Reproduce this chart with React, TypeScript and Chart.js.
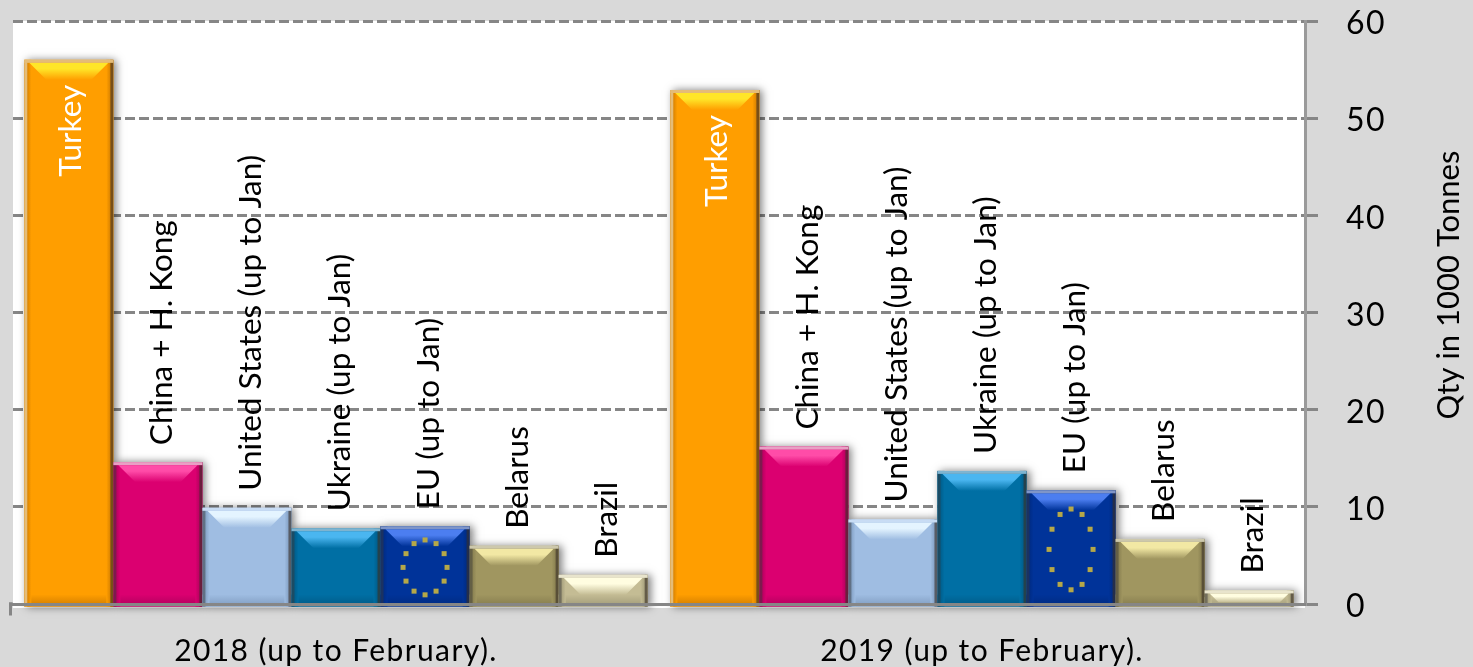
import React, { useEffect, useRef } from "react";
import { Chart, registerables } from "chart.js";

Chart.register(...registerables);

const periods = ["2018 (up to February).", "2019 (up to February)."];
const turkey = [56, 52.9];
const china = [14.6, 16.2];
const unitedStates = [9.9, 8.7];
const ukraine = [7.8, 13.7];
const eu = [8, 11.7];
const belarus = [6, 6.7];
const brazil = [3, 1.4];
const yTicks = [0, 10, 20, 30, 40, 50, 60];
const yTitle = "Qty in 1000 Tonnes";

type Skin = { label: string; data: number[]; body: string; dark: string; high: string; rim: string; text?: string };
const skins: Skin[] = [
  { label: "Turkey", data: turkey, body: "#FF9E00", dark: "#D07C00", high: "#FFE628", rim: "#E4BC78", text: "#FFFFFF" },
  { label: "China + H. Kong", data: china, body: "#DB0070", dark: "#B0005C", high: "#FF4CA8", rim: "#E8A0C4" },
  { label: "United States (up to Jan)", data: unitedStates, body: "#9FBDE2", dark: "#7F9CC0", high: "#E4F4FF", rim: "#C8DCF4" },
  { label: "Ukraine (up to Jan)", data: ukraine, body: "#006FA4", dark: "#005A86", high: "#4AB6F0", rim: "#7EB4D0" },
  { label: "EU (up to Jan)", data: eu, body: "#003399", dark: "#002A80", high: "#4C7EF0", rim: "#7F95C8" },
  { label: "Belarus", data: belarus, body: "#A09660", dark: "#857C4E", high: "#F2E8A4", rim: "#CDC8AC" },
  { label: "Brazil", data: brazil, body: "#C4BC94", dark: "#A09A78", high: "#FFFDE0", rim: "#E8E4CC" },
];

const FONT = "Lato";
const AXIS = "#868686";

const bevelPlugin = {
  id: "bevel",
  beforeDraw(chart: any) {
    const { ctx, chartArea: a } = chart;
    ctx.fillStyle = "#FFFFFF";
    ctx.fillRect(a.left, a.top, a.right - a.left, a.bottom - a.top + 4);
    (ctx as any).letterSpacing = "1.4px";
  },
  beforeDatasetsDraw(chart: any) {
    const { ctx } = chart;
    ctx.save();
    chart.data.datasets.forEach((_: any, i: number) => {
      chart.getDatasetMeta(i).data.forEach((b: any) => {
        ctx.shadowColor = "rgba(0,0,0,0.5)";
        ctx.shadowBlur = 8;
        ctx.shadowOffsetX = 3;
        ctx.shadowOffsetY = 0;
        ctx.fillStyle = "#FFFFFF";
        ctx.fillRect(b.x - b.width / 2, b.y, b.width, b.base - b.y + 4);
      });
    });
    ctx.restore();
  },
  afterDatasetsDraw(chart: any) {
    const { ctx, chartArea: a } = chart;
    ctx.save();
    (ctx as any).letterSpacing = "0px";
    skins.forEach((s, i) => {
      chart.getDatasetMeta(i).data.forEach((b: any) => {
        const l = b.x - b.width / 2;
        const r = b.x + b.width / 2;
        const t = b.y;
        const bot = b.base + 4;
        const h = bot - t;
        ctx.fillStyle = s.body;
        ctx.fillRect(l, b.base, b.width, 4);
        const bg = ctx.createLinearGradient(0, b.base - Math.min(8, h / 3), 0, bot);
        bg.addColorStop(0, s.body);
        bg.addColorStop(1, s.dark);
        ctx.fillStyle = bg;
        ctx.fillRect(l, b.base - Math.min(8, h / 3), b.width, Math.min(8, h / 3) + 4);
        const sideW = 7;
        const lg = ctx.createLinearGradient(l + 2, 0, l + sideW, 0);
        lg.addColorStop(0, s.dark);
        lg.addColorStop(1, s.body);
        ctx.fillStyle = lg;
        ctx.fillRect(l, t, sideW, h);
        const rg = ctx.createLinearGradient(r - sideW, 0, r - 2, 0);
        rg.addColorStop(0, s.body);
        rg.addColorStop(1, s.dark);
        ctx.fillStyle = rg;
        ctx.fillRect(r - sideW, t, sideW, h);
        ctx.fillStyle = i === 0 ? s.rim : "rgba(60,60,60,0.45)";
        ctx.fillRect(l, t, 3, h);
        ctx.fillStyle = "rgba(60,50,40,0.6)";
        ctx.fillRect(r - 3, t, 3, h);
        const bh = Math.min(17, h * 0.55);
        const hg = ctx.createLinearGradient(0, t + 3, 0, t + 3 + bh);
        hg.addColorStop(0, s.high);
        hg.addColorStop(0.35, s.high);
        hg.addColorStop(1, s.body);
        ctx.fillStyle = hg;
        ctx.beginPath();
        ctx.moveTo(l + 5, t + 3);
        ctx.lineTo(r - 5, t + 3);
        ctx.lineTo(r - 5 - bh, t + 3 + bh);
        ctx.lineTo(l + 5 + bh, t + 3 + bh);
        ctx.closePath();
        ctx.fill();
        ctx.fillStyle = s.rim;
        ctx.fillRect(l, t, b.width, 3);
        if (s.label.startsWith("EU")) {
          const cx = b.x;
          const cy = (t + b.base) / 2 + 3;
          const ry = (b.base - t) * 0.36;
          ctx.fillStyle = "#B5A848";
          for (let k = 0; k < 12; k++) {
            const ang = (k * Math.PI) / 6;
            ctx.fillRect(cx + Math.cos(ang) * 22 - 2.5, cy + Math.sin(ang) * ry - 2.5, 5, 5);
          }
        }
      });
    });
    // rotated data labels
    ctx.font = `31.5px ${FONT}`;
    ctx.textBaseline = "middle";
    skins.forEach((s, i) => {
      chart.getDatasetMeta(i).data.forEach((b: any) => {
        ctx.save();
        const inside = i === 0;
        ctx.translate(b.x + (inside ? 2 : 4), inside ? b.y + 25 : b.y - 17);
        ctx.rotate(-Math.PI / 2);
        ctx.textAlign = inside ? "right" : "left";
        ctx.fillStyle = s.text || "#000000";
        ctx.fillText(s.label, 0, 0);
        ctx.restore();
      });
    });
    // axis title, set off centre as in the source
    ctx.save();
    ctx.font = `31px ${FONT}`;
    ctx.fillStyle = "#000000";
    ctx.textAlign = "center";
    ctx.translate(1449, 285);
    ctx.rotate(-Math.PI / 2);
    ctx.fillText(yTitle, 0, 0);
    ctx.restore();
    // short left stub of the category axis
    ctx.fillStyle = AXIS;
    ctx.fillRect(a.left - 4, a.bottom - 1.5, 4, 3);
    ctx.fillRect(a.left - 4, a.bottom - 1.5, 3, 13);
    ctx.restore();
    (ctx as any).letterSpacing = "1.4px";
  },
};

export default function App() {
  const ref = useRef<HTMLCanvasElement>(null);
  useEffect(() => {
    document.body.style.margin = "0";
    document.body.style.background = "#D9D9D9";
    const chart = new Chart(ref.current!, {
      type: "bar",
      data: {
        labels: periods,
        datasets: skins.map((s) => ({
          label: s.label,
          data: s.data,
          backgroundColor: s.body,
          borderWidth: 0,
          barPercentage: 1,
          categoryPercentage: 0.965,
        })),
      },
      options: {
        animation: false,
        responsive: false,
        layout: { padding: { left: 13, top: 21, right: 0, bottom: 0 } },
        plugins: { legend: { display: false }, tooltip: { enabled: false } },
        scales: {
          x: {
            grid: { display: false, drawTicks: false },
            border: { display: true, color: AXIS, width: 3, z: 1 },
            ticks: { color: "#000000", font: { family: FONT, size: 30 }, padding: 29, maxRotation: 0 },
            afterFit(scale: any) { scale.height = 63; scale.paddingLeft = 0; scale.paddingRight = 0; },
          },
          y: {
            position: "right",
            min: 0,
            max: 60,
            afterBuildTicks(scale: any) { scale.ticks = yTicks.map((value) => ({ value })); },
            grid: {
              color: AXIS,
              lineWidth: 3,
              borderDash: [10, 4],
              tickLength: 13,
              tickColor: AXIS,
              tickWidth: 3,
              tickBorderDash: [],
            },
            border: { display: true, color: "#9A9A9A", width: 3, dash: [10, 4] },
            ticks: { color: "#000000", font: { family: FONT, size: 32 }, padding: 28, labelOffset: 3 },
            afterFit(scale: any) { scale.width = 168; scale.paddingTop = 0; scale.paddingBottom = 0; },
          },
        },
      },
      plugins: [bevelPlugin],
    } as any);
    return () => chart.destroy();
  }, []);
  return (
    <div style={{ position: "fixed", left: 0, top: 0, width: 1473, height: 667, background: "#D9D9D9" }}>
      <canvas ref={ref} width={1473} height={667} style={{ display: "block" }} />
    </div>
  );
}
